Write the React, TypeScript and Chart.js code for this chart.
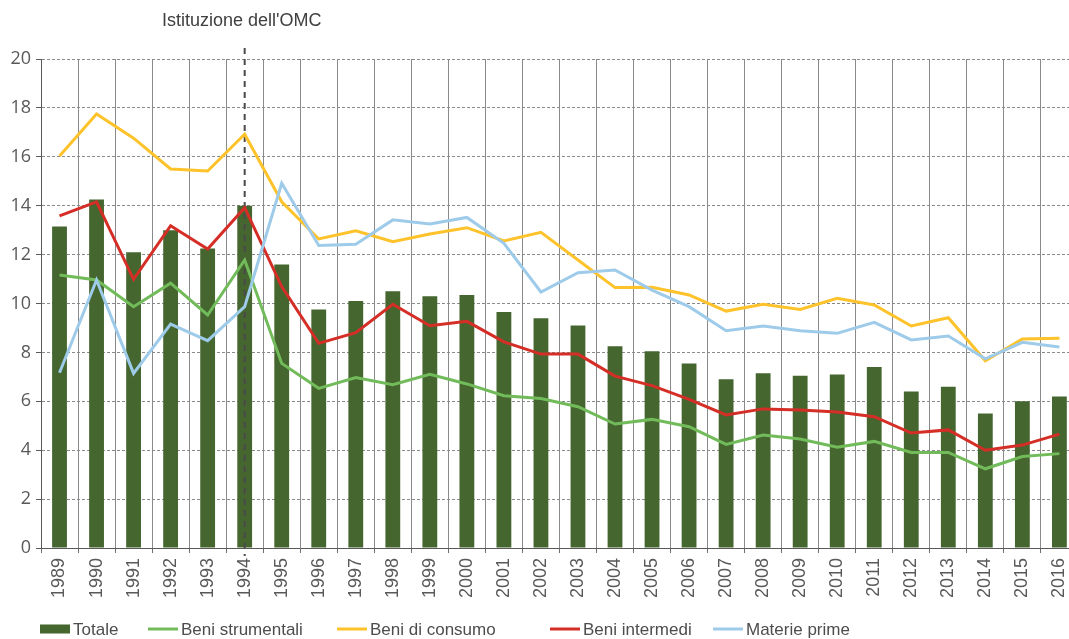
import { useEffect, useRef } from "react";
import { Chart, registerables } from "chart.js";

Chart.register(...registerables);

const years = [
  "1989", "1990", "1991", "1992", "1993", "1994", "1995", "1996", "1997", "1998",
  "1999", "2000", "2001", "2002", "2003", "2004", "2005", "2006", "2007", "2008",
  "2009", "2010", "2011", "2012", "2013", "2014", "2015", "2016",
];

const totale = [
  13.15, 14.25, 12.1, 13.0, 12.25, 14.0, 11.6, 9.75, 10.1, 10.5,
  10.3, 10.35, 9.65, 9.4, 9.1, 8.25, 8.05, 7.55, 6.9, 7.15,
  7.05, 7.1, 7.4, 6.4, 6.6, 5.5, 6.0, 6.2,
];

const beniStrumentali = [
  11.17, 10.96, 9.87, 10.83, 9.53, 11.78, 7.55, 6.53, 6.97, 6.68,
  7.1, 6.71, 6.23, 6.11, 5.78, 5.07, 5.26, 4.96, 4.24, 4.62,
  4.46, 4.12, 4.36, 3.91, 3.91, 3.24, 3.74, 3.86,
];

const beniDiConsumo = [
  16.03, 17.75, 16.76, 15.5, 15.42, 16.92, 14.16, 12.64, 12.97, 12.53,
  12.84, 13.1, 12.56, 12.91, 11.78, 10.65, 10.66, 10.35, 9.69, 9.97,
  9.76, 10.21, 9.94, 9.08, 9.42, 7.66, 8.55, 8.58,
];

const beniIntermedi = [
  13.58, 14.16, 10.99, 13.18, 12.23, 13.92, 10.69, 8.37, 8.81, 9.97,
  9.09, 9.27, 8.43, 7.93, 7.93, 7.03, 6.64, 6.08, 5.44, 5.69,
  5.64, 5.56, 5.37, 4.7, 4.83, 4.0, 4.21, 4.66,
];

const materiePrime = [
  7.17, 10.96, 7.14, 9.16, 8.48, 9.87, 14.92, 12.37, 12.42, 13.42,
  13.25, 13.52, 12.46, 10.47, 11.26, 11.37, 10.55, 9.87, 8.89, 9.08,
  8.89, 8.78, 9.23, 8.51, 8.67, 7.74, 8.41, 8.22,
];

const seriesNames = ["Totale", "Beni strumentali", "Beni di consumo", "Beni intermedi", "Materie prime"];
const seriesColors = ["#45662f", "#72bb5a", "#fec22a", "#d42e27", "#9ecbe9"];

const yMin = 0;
const yMax = 20;
const yStep = 2;

const annotationYear = "1994";
const annotationLabel = "Istituzione dell'OMC";

const SANS = '"Liberation Sans", Arial, sans-serif';

const annotationPlugin = {
  id: "omcAnnotation",
  afterDatasetDraw(chart: any, args: any) {
    if (args.index !== 0) return;
    const { ctx, chartArea } = chart;
    const x = chart.scales.x.getPixelForValue(years.indexOf(annotationYear));
    ctx.save();
    ctx.strokeStyle = "#4a4a4a";
    ctx.lineWidth = 2;
    ctx.setLineDash([6, 5]);
    ctx.beginPath();
    ctx.moveTo(x, chartArea.top - 11);
    ctx.lineTo(x, chartArea.bottom + 8);
    ctx.stroke();
    ctx.restore();
  },
  afterDraw(chart: any) {
    const { ctx } = chart;
    const x = chart.scales.x.getPixelForValue(years.indexOf(annotationYear));
    ctx.save();
    ctx.font = "18px " + SANS;
    ctx.fillStyle = "#404040";
    ctx.textAlign = "center";
    ctx.textBaseline = "middle";
    ctx.fillText(annotationLabel, x - 3, 21);
    ctx.restore();
  },
};

const legendStarts = [40, 148, 337, 550, 713];

const legendPlugin = {
  id: "customLegend",
  afterDraw(chart: any) {
    const { ctx } = chart;
    const yc = 629;
    ctx.save();
    ctx.font = "17px " + SANS;
    ctx.textBaseline = "middle";
    ctx.textAlign = "left";
    chart.data.datasets.forEach((ds: any, i: number) => {
      const x0 = legendStarts[i];
      if (ds.type === "line") {
        ctx.strokeStyle = ds.borderColor;
        ctx.lineWidth = 3;
        ctx.beginPath();
        ctx.moveTo(x0, yc);
        ctx.lineTo(x0 + 30, yc);
        ctx.stroke();
      } else {
        ctx.fillStyle = ds.backgroundColor;
        ctx.fillRect(x0, yc - 4.5, 30, 9);
      }
      ctx.fillStyle = "#4d4d4d";
      ctx.fillText(ds.label, x0 + 33, yc + 1);
    });
    ctx.restore();
  },
};

export default function App() {
  const ref = useRef<HTMLCanvasElement>(null);

  useEffect(() => {
    const lineSeries = [beniStrumentali, beniDiConsumo, beniIntermedi, materiePrime];
    const chart = new Chart(ref.current as HTMLCanvasElement, {
      type: "bar",
      data: {
        labels: years,
        datasets: [
          {
            type: "bar",
            label: seriesNames[0],
            data: totale,
            backgroundColor: seriesColors[0],
            borderWidth: 0,
            barPercentage: 0.4,
            categoryPercentage: 1.0,
            order: 5,
          } as any,
          ...lineSeries.map((d, i) => ({
            type: "line",
            label: seriesNames[i + 1],
            data: d,
            borderColor: seriesColors[i + 1],
            backgroundColor: seriesColors[i + 1],
            borderWidth: 3,
            pointRadius: 0,
            tension: 0,
            fill: false,
            order: 4 - i,
          })),
        ],
      },
      options: {
        responsive: false,
        animation: false,
        devicePixelRatio: 1,
        layout: { padding: { top: 59, left: 0, right: 0, bottom: 0 } },
        plugins: {
          legend: { display: false },
          tooltip: { enabled: false },
        },
        scales: {
          x: {
            offset: true,
            grid: {
              offset: true,
              color: "#8a8a8a",
              lineWidth: 1,
              tickLength: 5,
              tickColor: "#6f6f6f",
            },
            border: { color: "#595959", width: 1 },
            ticks: {
              autoSkip: false,
              minRotation: 90,
              maxRotation: 90,
              padding: 5,
              color: "#595959",
              font: { family: SANS, size: 18 },
            },
            afterFit(scale: any) {
              scale.height = 91;
            },
          },
          y: {
            min: yMin,
            max: yMax,
            grid: {
              color: "#8a8a8a",
              lineWidth: 1,
              tickLength: 5,
              tickColor: "#595959",
            },
            border: { color: "#595959", width: 1, dash: [3, 2] },
            ticks: {
              stepSize: yStep,
              padding: 5,
              color: "#595959",
              font: { family: '"Open Sans", sans-serif', size: 18 },
            },
            afterFit(scale: any) {
              scale.width = 41;
            },
          },
        },
      } as any,
      plugins: [annotationPlugin, legendPlugin],
    });
    return () => chart.destroy();
  }, []);

  return (
    <div
      style={{
        position: "fixed",
        left: 0,
        top: 0,
        width: 1069,
        height: 639,
        overflow: "hidden",
        background: "#ffffff",
      }}
    >
      <canvas ref={ref} width={1086} height={639} style={{ display: "block" }} />
    </div>
  );
}
